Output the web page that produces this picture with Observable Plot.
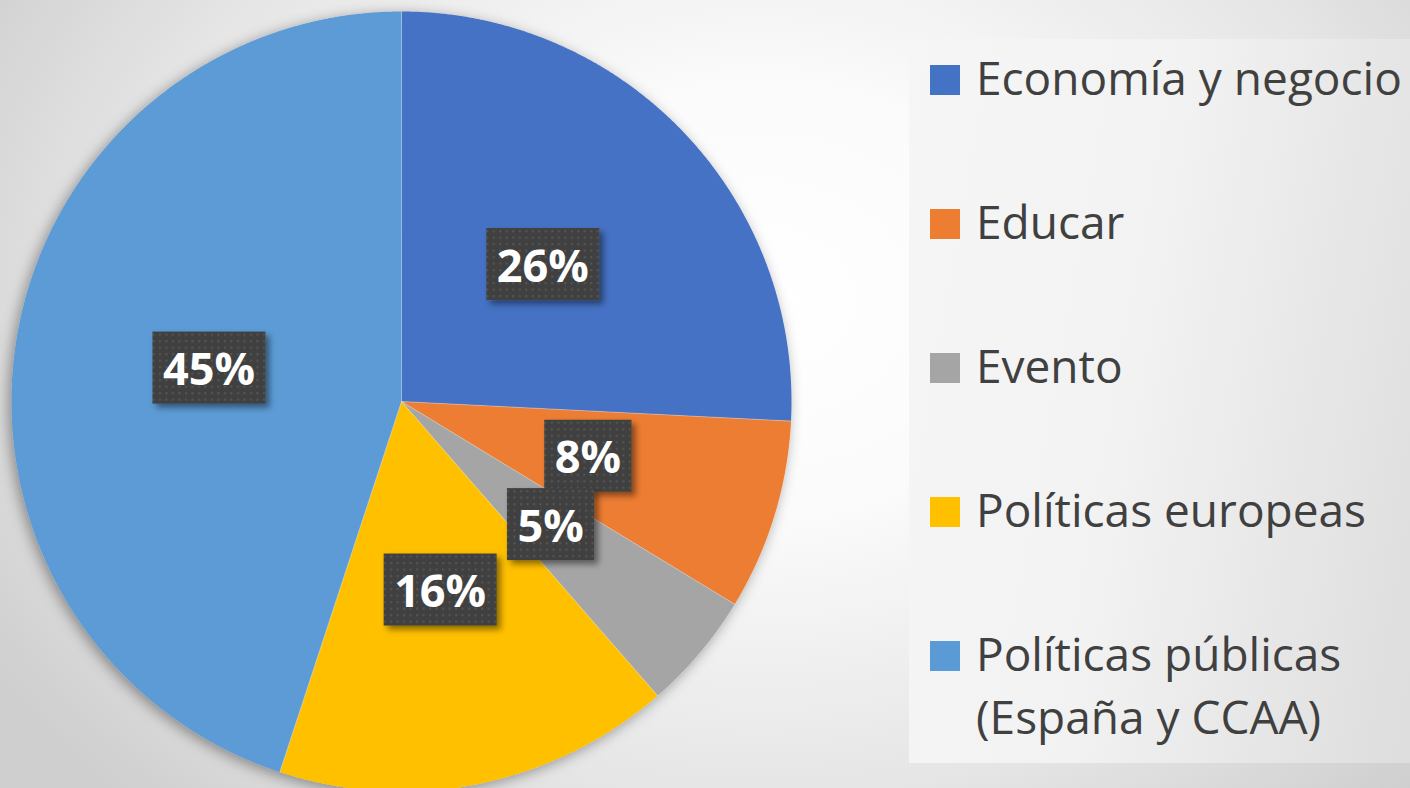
<!DOCTYPE html>
<html>
<head>
<meta charset="utf-8">
<script src="https://cdn.jsdelivr.net/npm/d3@7"></script>
<script src="https://cdn.jsdelivr.net/npm/@observablehq/plot@0.6"></script>
<style>
  html, body { margin: 0; padding: 0; }
  #stage {
    position: relative; width: 1410px; height: 788px; overflow: hidden;
    background: radial-gradient(ellipse 900px 700px at 760px 300px, #ffffff 0%, #fbfbfb 30%, #e6e6e6 70%, #cfcfcf 100%);
    font-family: "Open Sans", sans-serif;
  }
  #chart { position: absolute; left: 0; top: 0; }
  #legend {
    position: absolute; left: 909px; top: 39px; width: 501px; height: 724px;
    background: linear-gradient(100deg, #f6f6f6 0%, #f2f2f2 45%, #dddddd 100%);
  }
  .item { position: absolute; left: 0; }
  .sw { position: absolute; left: 21px; top: 19.4px; width: 30px; height: 30px; }
  .lbl { position: absolute; left: 67px; top: 0; font-size: 46px; line-height: 63px; color: #404040; white-space: nowrap; }
</style>
</head>
<body>
<div id="stage">
  <div id="chart"></div>
  <div id="legend"></div>
</div>
<script>
const categories = ["Economía y negocio", "Educar", "Evento", "Políticas europeas", "Políticas públicas (España y CCAA)"];
const legendLines = [["Economía y negocio"], ["Educar"], ["Evento"], ["Políticas europeas"], ["Políticas públicas", "(España y CCAA)"]];
const values = [25.8, 7.9, 4.9, 16.45, 44.95];
const labels = ["26%", "8%", "5%", "16%", "45%"];
const colors = ["#4472C4", "#ED7D31", "#A5A5A5", "#FFC000", "#5B9BD5"];

// pie geometry from the data (unit circle, y up)
const arcs = d3.pie().sort(null).value(d => d)(values);
const slicePts = [];
const edges = [];
const labelPts = [];
arcs.forEach((a, i) => {
  const cat = categories[i];
  slicePts.push({cat, x: 0, y: 0});
  const n = Math.max(8, Math.ceil((a.endAngle - a.startAngle) / (Math.PI / 720)));
  for (let k = 0; k <= n; k++) {
    const t = a.startAngle + (a.endAngle - a.startAngle) * k / n;
    slicePts.push({cat, x: Math.sin(t), y: Math.cos(t)});
  }
  edges.push({x: Math.sin(a.startAngle), y: Math.cos(a.startAngle)});
  const m = (a.startAngle + a.endAngle) / 2;
  labelPts.push({label: labels[i], x: 0.5 * Math.sin(m), y: 0.5 * Math.cos(m)});
});

const plot = Plot.plot({
  width: 810, height: 788, margin: 0,
  x: {domain: [-401 / 390, 409 / 390], axis: null},
  y: {domain: [-387 / 390, 401 / 390], axis: null},
  color: {domain: categories, range: colors},
  style: {background: "transparent", overflow: "visible"},
  marks: [
    Plot.line(slicePts, {x: "x", y: "y", z: "cat", fill: "cat", stroke: "none"}),
    Plot.link(edges, {x1: 0, y1: 0, x2: "x", y2: "y", stroke: "#ffffff", strokeOpacity: 0.35, strokeWidth: 1}),
    Plot.text(labelPts, {x: "x", y: "y", text: "label", fill: "#ffffff", fontSize: 45, fontWeight: "bold", fontFamily: "Open Sans"})
  ]
});
document.getElementById("chart").appendChild(plot);

// defs: dot pattern + shadows
const ns = "http://www.w3.org/2000/svg";
const defs = document.createElementNS(ns, "defs");
defs.innerHTML = `
  <pattern id="dots" width="6.5" height="6.5" patternUnits="userSpaceOnUse">
    <rect width="6.5" height="6.5" fill="#404040"></rect>
    <rect x="2" y="2" width="2" height="2" fill="#565656"></rect>
  </pattern>
  <filter id="boxShadow" x="-30%" y="-30%" width="170%" height="170%">
    <feDropShadow dx="4" dy="4" stdDeviation="3" flood-color="#000" flood-opacity="0.45"></feDropShadow>
  </filter>
  <filter id="pieShadow" x="-10%" y="-10%" width="120%" height="120%">
    <feDropShadow dx="-3" dy="3" stdDeviation="7" flood-color="#000" flood-opacity="0.38"></feDropShadow>
  </filter>`;
plot.insertBefore(defs, plot.firstChild);

const pieG = plot.querySelector('g[aria-label="line"]');
if (pieG) pieG.setAttribute("filter", "url(#pieShadow)");

// label boxes behind each label text
const textG = plot.querySelector('g[aria-label="text"]');
if (textG) {
  Array.from(textG.querySelectorAll("text")).forEach(t => {
    const g = document.createElementNS(ns, "g");
    textG.insertBefore(g, t);
    const tr = t.getAttribute("transform");
    if (tr) { g.setAttribute("transform", tr); t.removeAttribute("transform"); }
    const r = document.createElementNS(ns, "rect");
    g.appendChild(r);
    g.appendChild(t);
    const bb = t.getBBox();
    const cy = bb.y + bb.height / 2;
    r.setAttribute("x", bb.x - 10.5);
    r.setAttribute("y", cy - 36);
    r.setAttribute("width", bb.width + 21);
    r.setAttribute("height", 72);
    r.setAttribute("fill", "url(#dots)");
    r.setAttribute("filter", "url(#boxShadow)");
  });
}

// legend
const legend = document.getElementById("legend");
categories.forEach((c, i) => {
  const item = document.createElement("div");
  item.className = "item";
  item.style.top = (6.6 + 144 * i) + "px";
  const sw = document.createElement("div");
  sw.className = "sw";
  sw.style.background = colors[i];
  const lbl = document.createElement("div");
  lbl.className = "lbl";
  lbl.innerHTML = legendLines[i].join("<br>");
  item.appendChild(sw);
  item.appendChild(lbl);
  legend.appendChild(item);
});
</script>
</body>
</html>
